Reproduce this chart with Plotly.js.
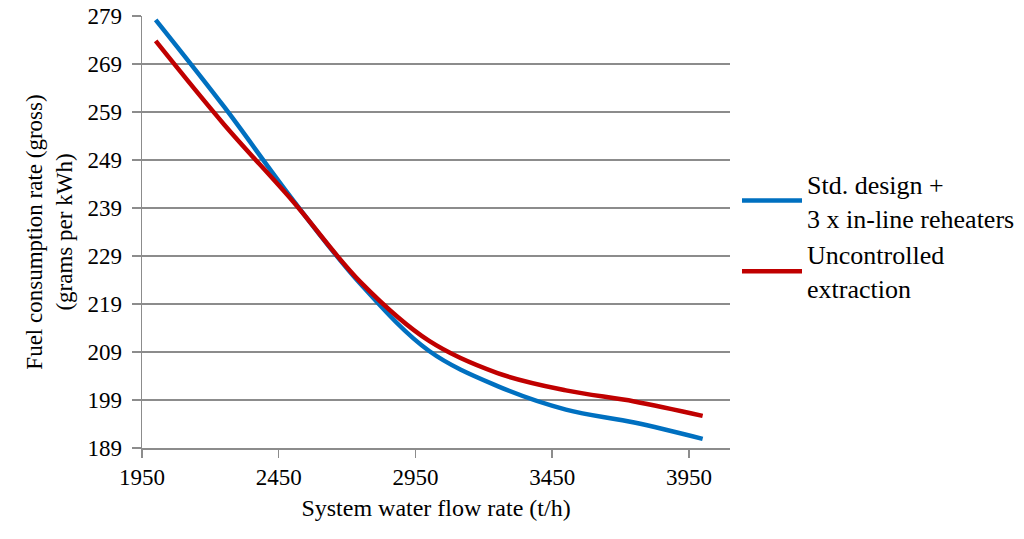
<!DOCTYPE html>
<html>
<head>
<meta charset="utf-8">
<script src="https://cdn.plot.ly/plotly-3.0.1.min.js"></script>
<style>html,body{margin:0;padding:0;background:#fff;}#chart{width:1024px;height:539px;}</style>
</head>
<body>
<div id="chart"></div>
<script>
// Data
const seriesNames = ["Std. design +<br>3 x in-line reheaters", "Uncontrolled<br>extraction"];
const flow = [2000, 2250, 2500, 2750, 3000, 3250, 3500, 3750, 4000];
const stdFuel = [278.2, 260.1, 240.8, 223.1, 209.2, 201.9, 197.0, 194.3, 190.9];
const uncFuel = [273.8, 256.4, 240.5, 223.5, 211.3, 204.6, 201.0, 198.7, 195.7];
const xTicks = [1950, 2450, 2950, 3450, 3950];
const yTicks = [189, 199, 209, 219, 229, 239, 249, 259, 269, 279];

const font = "Liberation Serif, Times New Roman, serif";
const grid = "#8c8c8c";

const traces = [
  {x: flow, y: stdFuel, name: seriesNames[0], mode: "lines",
   line: {color: "#0070C0", width: 4.5, shape: "spline", smoothing: 1}},
  {x: flow, y: uncFuel, name: seriesNames[1], mode: "lines",
   line: {color: "#C00000", width: 4.5, shape: "spline", smoothing: 1}}
];

const layout = {
  width: 1024, height: 539,
  margin: {l: 142, r: 294, t: 16, b: 91, autoexpand: false},
  paper_bgcolor: "#fff", plot_bgcolor: "#fff",
  font: {family: font, color: "#000", size: 23},
  showlegend: true,
  legend: {x: 1.0119, xanchor: "left", y: 0.49, yanchor: "middle",
           font: {family: font, size: 26, color: "#000"}, bgcolor: "rgba(0,0,0,0)",
           tracegroupgap: 0, itemwidth: 60},
  xaxis: {
    range: [1950, 4100], tickvals: xTicks, ticktext: xTicks.map(String),
    showgrid: false, zeroline: false, showline: true, linecolor: grid, linewidth: 1.5,
    ticks: "outside", ticklen: 8, tickcolor: grid, tickwidth: 1.5,
    tickfont: {family: font, size: 23, color: "#000"},
    title: {text: "System water flow rate (t/h)", font: {family: font, size: 24, color: "#000"}, standoff: 10}
  },
  yaxis: {
    range: [189, 279], tickvals: yTicks, ticktext: yTicks.map(String),
    showgrid: true, gridcolor: grid, gridwidth: 1.5,
    zeroline: false, showline: true, linecolor: grid, linewidth: 1.5,
    ticks: "outside", ticklen: 9, tickcolor: grid, tickwidth: 1.5,
    ticklabelstandoff: 5,
    tickfont: {family: font, size: 23, color: "#000"},
    title: {text: "Fuel consumption rate (gross)<br>(grams per kWh)", font: {family: font, size: 23, color: "#000"}, standoff: 8}
  }
};

Plotly.newPlot("chart", traces, layout, {displayModeBar: false, staticPlot: true});
</script>
</body>
</html>
